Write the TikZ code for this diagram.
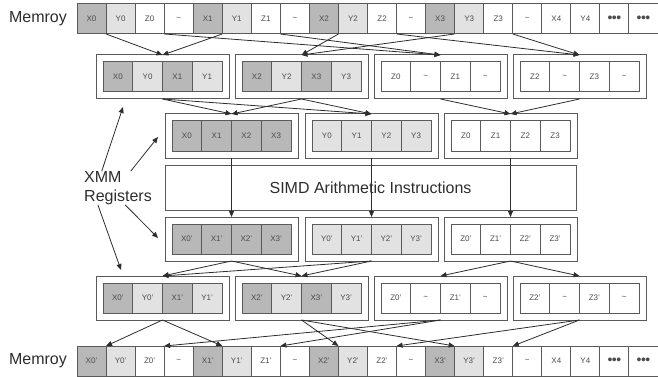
\documentclass[tikz,border=0pt]{standalone}
\usepackage{fontspec}
\setmainfont{Liberation Sans}
\usetikzlibrary{positioning,arrows.meta,fit}
\definecolor{xfill}{RGB}{184,184,184}
\definecolor{yfill}{RGB}{226,226,226}
\definecolor{edge}{RGB}{90,90,90}
\definecolor{ink}{RGB}{45,45,45}
\newcommand{\mdots}{{\fontsize{14}{14}\selectfont\textbullet\kern-0.5pt\textbullet\kern-0.5pt\textbullet}}
% one XMM register: name, left x, centre y, cells
\newcommand{\xmmreg}[4]{%
  \foreach \txt/\clr [count=\k] in {#4} {
    \node[rcell,fill=\clr] (#1-\k) at ({#2+7+29.75*(\k-0.5)},#3) {\txt};
  }
  \node[regbox,fit=(#1-1)(#1-4)] (#1) {};
}

\begin{document}
\begin{tikzpicture}[x=1pt,y=-1pt,
  mcell/.style={draw=edge,line width=1pt,minimum width=29.05pt,minimum height=30pt,
    inner sep=0pt,outer sep=0pt,text=ink!85,font=\fontsize{8}{9.6}\selectfont},
  rcell/.style={draw=edge,line width=1pt,minimum width=29.75pt,minimum height=30pt,
    inner sep=0pt,outer sep=0pt,text=ink!85,font=\fontsize{8}{9.6}\selectfont},
  regbox/.style={draw=edge,line width=1pt,inner sep=7pt,outer sep=0pt},
  biglbl/.style={text=ink,font=\fontsize{16}{19}\selectfont},
  conn/.style={draw=ink,line width=0.8pt,-{Triangle[length=6pt,width=5pt]}}]
\useasboundingbox (0,0) rectangle (658,377);

% memory rows
\node[biglbl] (memtop) at (38,19) {Memroy};
\node[biglbl] (membot) at (38,361) {Memroy};
\foreach \txt/\clr [count=\i] in {X0/xfill,Y0/yfill,Z0/white,\textasciitilde/white,
  X1/xfill,Y1/yfill,Z1/white,\textasciitilde/white,X2/xfill,Y2/yfill,Z2/white,\textasciitilde/white,
  X3/xfill,Y3/yfill,Z3/white,\textasciitilde/white,X4/white,Y4/white,\mdots/white,\mdots/white}{
  \node[mcell,fill=\clr] (mt-\i) at ({77+29.05*(\i-0.5)},19) {\txt};
}
\foreach \txt/\clr [count=\i] in {X0'/xfill,Y0'/yfill,Z0'/white,\textasciitilde/white,
  X1'/xfill,Y1'/yfill,Z1'/white,\textasciitilde/white,X2'/xfill,Y2'/yfill,Z2'/white,\textasciitilde/white,
  X3'/xfill,Y3'/yfill,Z3'/white,\textasciitilde/white,X4/white,Y4/white,\mdots/white,\mdots/white}{
  \node[mcell,fill=\clr] (mb-\i) at ({77+29.05*(\i-0.5)},361) {\txt};
}

% registers
\xmmreg{ra}{96}{77}{X0/xfill,Y0/yfill,X1/xfill,Y1/yfill}
\xmmreg{rb}{235}{77}{X2/xfill,Y2/yfill,X3/xfill,Y3/yfill}
\xmmreg{rc}{374}{77}{Z0/white,\textasciitilde/white,Z1/white,\textasciitilde/white}
\xmmreg{rd}{513}{77}{Z2/white,\textasciitilde/white,Z3/white,\textasciitilde/white}
\xmmreg{va}{165}{136}{X0/xfill,X1/xfill,X2/xfill,X3/xfill}
\xmmreg{vb}{305}{136}{Y0/yfill,Y1/yfill,Y2/yfill,Y3/yfill}
\xmmreg{vc}{444}{136}{Z0/white,Z1/white,Z2/white,Z3/white}
\xmmreg{wa}{165}{239}{X0'/xfill,X1'/xfill,X2'/xfill,X3'/xfill}
\xmmreg{wb}{305}{239}{Y0'/yfill,Y1'/yfill,Y2'/yfill,Y3'/yfill}
\xmmreg{wc}{444}{239}{Z0'/white,Z1'/white,Z2'/white,Z3'/white}
\xmmreg{sa}{96}{298}{X0'/xfill,Y0'/yfill,X1'/xfill,Y1'/yfill}
\xmmreg{sb}{235}{298}{X2'/xfill,Y2'/yfill,X3'/xfill,Y3'/yfill}
\xmmreg{sc}{374}{298}{Z0'/white,\textasciitilde/white,Z1'/white,\textasciitilde/white}
\xmmreg{sd}{513}{298}{Z2'/white,\textasciitilde/white,Z3'/white,\textasciitilde/white}

\node[draw=edge,line width=1pt,minimum width=411pt,minimum height=45pt,biglbl]
  (simd) at (370.5,187.5) {SIMD Arithmetic Instructions};

% XMM label
\node[biglbl,align=left,inner sep=0pt] (xmm) at (118,188) {XMM\\Registers};
\coordinate (xa) at (123,107);
\coordinate (xb) at (158,137);
\coordinate (xc) at (158,238);
\coordinate (xd) at (121,270);
\draw[conn] (xmm.134) -- (xa);
\draw[conn] (xmm.53) -- (xb);
\draw[conn] (xmm.-67) -- (xc);
\draw[conn] (xmm.220) -- (xd);

% load: memory -> registers
\foreach \m/\r in {1/ra,5/ra,9/rb,13/rb,3/rc,7/rc,11/rd,15/rd}
  \draw[conn] (mt-\m.south east) -- (\r.north);
% shuffle
\foreach \a/\b in {ra/va,rb/va,ra/vb,rb/vb,rc/vc,rd/vc}
  \draw[conn] (\a.south) -- (\b.north);
% arithmetic
\foreach \a/\b in {va/wa,vb/wb,vc/wc}
  \draw[conn] (\a.south) -- (\b.north);
% shuffle back
\foreach \a/\b in {wa/sa,wa/sb,wb/sa,wb/sb,wc/sc,wc/sd}
  \draw[conn] (\a.south) -- (\b.north);
% store: registers -> memory
\foreach \r/\m in {sa/1,sa/5,sb/9,sb/13,sc/3,sc/7,sd/11,sd/15}
  \draw[conn] (\r.south) -- (mb-\m.north east);
\end{tikzpicture}
\end{document}
